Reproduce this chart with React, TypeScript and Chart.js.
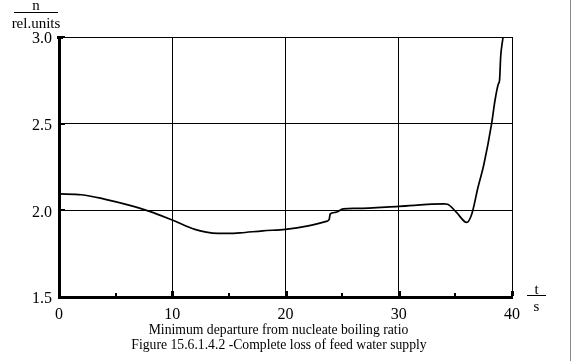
import React, { useEffect, useRef } from "react";
import { Chart, registerables } from "chart.js";

Chart.register(...registerables);

const times = [0, 2, 4, 6, 8, 10, 12, 13, 14, 15, 16, 18, 20, 22, 23.6, 23.85, 23.95, 24.4, 25.1, 26.3, 30, 34, 34.3, 35.1, 36.0, 36.45, 37.0, 37.5, 38.2, 38.5, 38.8, 38.9, 39.0, 39.2];
const ratio = [2.095, 2.09, 2.065, 2.033, 1.994, 1.944, 1.89, 1.874, 1.867, 1.867, 1.87, 1.882, 1.89, 1.91, 1.936, 1.946, 1.979, 1.988, 2.008, 2.011, 2.023, 2.037, 2.035, 1.988, 1.93, 1.979, 2.133, 2.26, 2.5, 2.635, 2.73, 2.75, 2.886, 2.995];
const xTicks = [0, 10, 20, 30, 40];
const xMinorTicks = [5, 15, 25, 35];
const yTicks = [1.5, 2.0, 2.5, 3.0];
const captionLines = [
  "Minimum departure from nucleate boiling ratio",
  "Figure 15.6.1.4.2 -Complete loss of feed water supply",
];
const yUnitTop = "n";
const yUnitBottom = "rel.units";
const xUnitTop = "t";
const xUnitBottom = "s";

const FONT = '"Liberation Serif", "Times New Roman", serif';

const tickMarks = {
  id: "tickMarks",
  afterDraw(chart: any) {
    const { ctx, scales, chartArea } = chart;
    const xs = scales.x;
    const ys = scales.y;
    ctx.save();
    ctx.fillStyle = "#000";
    xMinorTicks.forEach((v) => {
      const px = Math.round(xs.getPixelForValue(v));
      ctx.fillRect(px - 1, chartArea.bottom - 4, 2, 3);
    });
    xTicks.forEach((v) => {
      if (v === 0) return;
      const px = Math.round(xs.getPixelForValue(v));
      ctx.fillRect(px - 1, chartArea.bottom - 6, 3, 5);
    });
    yTicks.forEach((v) => {
      if (v === 1.5) return;
      const py = Math.round(ys.getPixelForValue(v));
      ctx.fillRect(chartArea.left, py - 1, 6, 2);
    });
    ctx.fillRect(chartArea.left - 2, chartArea.top - 1, 6, 3);
    ctx.restore();
  },
};

export default function App() {
  const ref = useRef<HTMLCanvasElement | null>(null);
  useEffect(() => {
    if (!ref.current) return;
    const chart = new Chart(ref.current, {
      type: "line",
      data: {
        datasets: [
          {
            data: times.map((t, i) => ({ x: t, y: ratio[i] })),
            borderColor: "#000",
            borderWidth: 1.7,
            pointRadius: 0,
            cubicInterpolationMode: "monotone",
            fill: false,
          },
        ],
      },
      options: {
        animation: false,
        responsive: false,
        maintainAspectRatio: false,
        layout: { padding: { left: 0, top: 37, right: 61, bottom: 0 } },
        plugins: { legend: { display: false }, tooltip: { enabled: false } },
        scales: {
          x: {
            type: "linear",
            min: 0,
            max: 40,
            afterFit: (s: any) => {
              s.height = 64;
            },
            afterBuildTicks: (s: any) => {
              s.ticks = xTicks.map((v) => ({ value: v }));
            },
            grid: { color: "#000", lineWidth: 1, drawTicks: false },
            border: { color: "#000", width: 3 },
            ticks: {
              color: "#000",
              padding: 8,
              maxRotation: 0,
              font: { family: FONT, size: 16 },
              callback: (v: any) => String(v),
            },
          },
          y: {
            type: "linear",
            min: 1.5,
            max: 3.0,
            afterFit: (s: any) => {
              s.width = 59;
            },
            afterBuildTicks: (s: any) => {
              s.ticks = yTicks.map((v) => ({ value: v }));
            },
            grid: { color: "#000", lineWidth: 1, drawTicks: false },
            border: { color: "#000", width: 3 },
            ticks: {
              color: "#000",
              padding: 7,
              labelOffset: 2,
              font: { family: FONT, size: 16 },
              callback: (v: any) => Number(v).toFixed(1),
            },
          },
        },
      },
      plugins: [tickMarks],
    } as any);
    return () => chart.destroy();
  }, []);

  const text: React.CSSProperties = {
    position: "absolute",
    fontFamily: FONT,
    color: "#000",
    whiteSpace: "nowrap",
    lineHeight: 1,
  };

  return (
    <div
      style={{
        position: "fixed",
        left: 0,
        top: 0,
        width: 573,
        height: 361,
        background: "#fff",
        overflow: "hidden",
      }}
    >
      <canvas ref={ref} width={573} height={361} style={{ position: "absolute", left: 0, top: 0 }} />
      <div style={{ ...text, left: 14, width: 44, top: 0, fontSize: 15, textAlign: "center", borderBottom: "1px solid #000", paddingBottom: 1, lineHeight: "11px" }}>
        {yUnitTop}
      </div>
      <div style={{ ...text, left: 8, width: 56, top: 16, fontSize: 15, textAlign: "center" }}>{yUnitBottom}</div>
      <div style={{ ...text, left: 527, width: 19, top: 283, fontSize: 15, textAlign: "center", borderBottom: "1px solid #000", lineHeight: "12px" }}>
        {xUnitTop}
      </div>
      <div style={{ ...text, left: 527, width: 19, top: 299, fontSize: 15, textAlign: "center" }}>{xUnitBottom}</div>
      <div style={{ ...text, left: 0, width: 557, top: 323, fontSize: 13.7, textAlign: "center" }}>{captionLines[0]}</div>
      <div style={{ ...text, left: 0, width: 558, top: 338, fontSize: 13.7, textAlign: "center" }}>{captionLines[1]}</div>
      <div style={{ position: "absolute", left: 570, top: 0, width: 1, height: 361, background: "#8a8a8a" }} />
    </div>
  );
}
